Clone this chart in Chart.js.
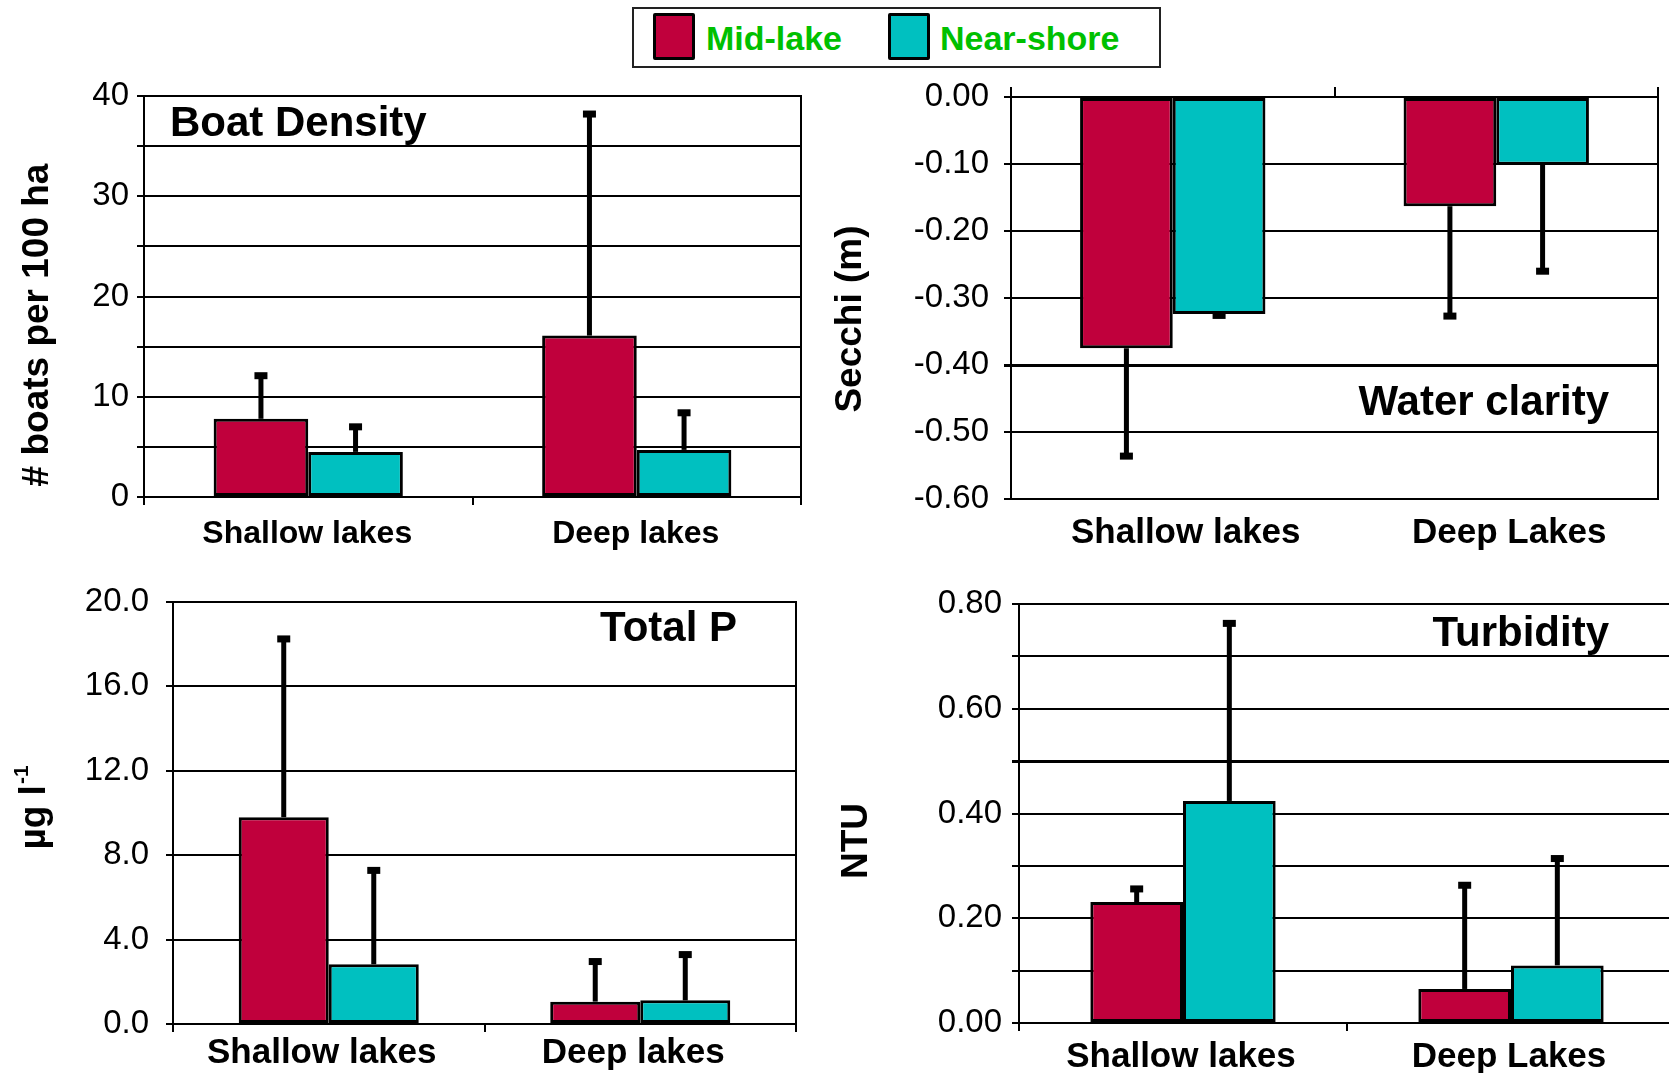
<!DOCTYPE html>
<html>
<head>
<meta charset="utf-8">
<script src="https://cdn.jsdelivr.net/npm/chart.js@4.4.0/dist/chart.umd.min.js"></script>
<style>
    body { margin: 0; width: 1669px; height: 1073px; overflow: hidden; background: #fff; position: relative;
           font-family: "Liberation Sans", Arial, sans-serif; }
    canvas { position: absolute; }
    #legend { position: absolute; left: 632px; top: 7px; width: 525px; height: 57px; border: 2px solid #222; background: #fff; }
    .swatch { position: absolute; top: 4px; width: 36px; height: 41px; border: 3px solid #000; border-radius: 2px; }
    .legText { position: absolute; top: 9px; font-weight: bold; font-size: 34px; line-height: 40px; color: #00c000; }
</style>
</head>
<body>
<div id="legend">
    <div class="swatch" style="left:19px; background:#c0003c"></div>
    <div class="legText" style="left:72px">Mid-lake</div>
    <div class="swatch" style="left:254px; background:#00c0c0"></div>
    <div class="legText" style="left:306px">Near-shore</div>
</div>
<canvas id="boatChart" width="834" height="500" style="left:0; top:70px"></canvas>
<canvas id="secchiChart" width="835" height="500" style="left:834px; top:70px"></canvas>
<canvas id="tpChart" width="834" height="503" style="left:0; top:570px"></canvas>
<canvas id="turbChart" width="845" height="503" style="left:834px; top:570px"></canvas>
<script>
// categories
var lakesA = ['Shallow lakes', 'Deep lakes'];
var lakesB = ['Shallow lakes', 'Deep Lakes'];
var seriesNames = ['Mid-lake', 'Near-shore'];

// Boat density (# boats per 100 ha)
var boatMid = [7.8, 16.1];
var boatNear = [4.5, 4.7];
var boatMidErr = [4.3, 22.1];
var boatNearErr = [2.5, 3.7];

// Water clarity, Secchi (m)
var secchiMid = [-0.375, -0.163];
var secchiNear = [-0.324, -0.101];
var secchiMidErr = [0.161, 0.164];
var secchiNearErr = [0.002, 0.159];

// Total P (ug/l)
var tpMid = [9.8, 1.06];
var tpNear = [2.83, 1.12];
var tpMidErr = [8.45, 1.9];
var tpNearErr = [4.45, 2.17];

// Turbidity (NTU)
var turbMid = [0.231, 0.065];
var turbNear = [0.424, 0.110];
var turbMidErr = [0.025, 0.198];
var turbNearErr = [0.339, 0.204];

var midColor = '#c0003c';
var nearColor = '#00c0c0';

Chart.defaults.font.family = '"Liberation Sans", Arial, sans-serif';
Chart.defaults.color = '#000';

// error bars drawn away from zero, with a square cap
var errorBarsPlugin = {
    id: 'errorBars',
    afterDatasetsDraw: function(chart, args, opts) {
        var ctx = chart.ctx;
        var yScale = chart.scales.y;
        ctx.save();
        ctx.fillStyle = '#000';
        chart.data.datasets.forEach(function(ds, di) {
            var meta = chart.getDatasetMeta(di);
            var errs = opts.errors[di];
            meta.data.forEach(function(bar, i) {
                var v = ds.data[i];
                var end = v < 0 ? v - errs[i] : v + errs[i];
                var y0 = yScale.getPixelForValue(v);
                var y1 = yScale.getPixelForValue(end);
                ctx.fillRect(bar.x - 2.5, Math.min(y0, y1), 5, Math.abs(y1 - y0));
                ctx.fillRect(bar.x - 6.5, y1 - 3.5, 13, 7);
            });
        });
        ctx.restore();
    }
};

// frame round the plot area plus the panel title and the axis title
var panelTextPlugin = {
    id: 'panelText',
    beforeDatasetsDraw: function(chart) {
        var a = chart.chartArea;
        var ctx = chart.ctx;
        ctx.save();
        ctx.strokeStyle = '#000';
        ctx.lineWidth = 2;
        ctx.strokeRect(a.left, a.top, a.right - a.left, a.bottom - a.top);
        ctx.restore();
    },
    afterDraw: function(chart, args, opts) {
        var ctx = chart.ctx;
        ctx.save();
        ctx.fillStyle = '#000';
        ctx.textBaseline = 'middle';
        ctx.font = 'bold 42px "Liberation Sans", Arial, sans-serif';
        ctx.textAlign = opts.titleAlign;
        ctx.fillText(opts.title, opts.titleX, opts.titleY);

        // rotated axis title
        ctx.translate(opts.axisX, opts.axisY);
        ctx.rotate(-Math.PI / 2);
        ctx.font = 'bold 37px "Liberation Sans", Arial, sans-serif';
        var w = ctx.measureText(opts.axisText).width;
        var supW = 0;
        if (opts.axisSup) {
            ctx.font = 'bold 21px "Liberation Sans", Arial, sans-serif';
            supW = ctx.measureText(opts.axisSup).width;
        }
        var start = -(w + supW) / 2;
        ctx.textAlign = 'left';
        ctx.font = 'bold 37px "Liberation Sans", Arial, sans-serif';
        ctx.fillText(opts.axisText, start, 0);
        if (opts.axisSup) {
            ctx.font = 'bold 21px "Liberation Sans", Arial, sans-serif';
            ctx.fillText(opts.axisSup, start + w + 1, -13);
        }
        ctx.restore();
    }
};

function buildChart(id, cfg) {
    var ctx = document.getElementById(id).getContext('2d');
    var scales = {
        x: {
            offset: true,
            grid: {
                display: !cfg.topTicks,
                offset: true,
                drawOnChartArea: false,
                tickLength: 8,
                color: '#000',
                lineWidth: 2
            },
            border: { display: false },
            ticks: {
                padding: cfg.xPad,
                labelOffset: cfg.labelOffset,
                maxRotation: 0,
                font: { size: cfg.xFont, weight: 'bold' },
                color: '#000'
            },
            afterFit: function(scale) { scale.height = cfg.xHeight; }
        },
        y: {
            min: cfg.min,
            max: cfg.max,
            grid: {
                color: '#000',
                tickLength: 7,
                lineWidth: function(c) {
                    if (c.tick && cfg.boldAt !== undefined && Math.abs(c.tick.value - cfg.boldAt) < 1e-6) return 3;
                    return 2;
                }
            },
            border: { display: false },
            ticks: {
                stepSize: cfg.step,
                padding: cfg.yPad,
                font: { size: 33 },
                color: '#000',
                callback: function(value) {
                    var k = Math.round(value / cfg.step);
                    if (k % cfg.labelEvery !== 0) return '';
                    return value.toFixed(cfg.decimals);
                }
            },
            afterFit: function(scale) {
                scale.width = cfg.yWidth;
                // keep the plot area where the layout padding puts it
                scale.paddingTop = 0;
                scale.paddingBottom = 0;
            }
        }
    };
    if (cfg.topTicks) {
        scales.x2 = {
            type: 'category',
            position: 'top',
            offset: true,
            grid: { offset: true, drawOnChartArea: false, tickLength: 10, color: '#000', lineWidth: 2 },
            border: { display: false },
            ticks: { display: false },
            afterFit: function(scale) { scale.height = 0; }
        };
    }
    return new Chart(ctx, {
        type: 'bar',
        data: {
            labels: cfg.labels,
            datasets: [{
                label: seriesNames[0],
                data: cfg.mid,
                backgroundColor: midColor,
                borderColor: '#000',
                borderWidth: 3,
                borderSkipped: false
            }, {
                label: seriesNames[1],
                data: cfg.near,
                backgroundColor: nearColor,
                borderColor: '#000',
                borderWidth: 3,
                borderSkipped: false
            }]
        },
        options: {
            responsive: false,
            animation: false,
            datasets: { bar: { barPercentage: 1, categoryPercentage: cfg.catPct } },
            layout: { padding: cfg.padding, autoPadding: false },
            scales: scales,
            plugins: {
                legend: { display: false },
                tooltip: { enabled: false },
                errorBars: { errors: [cfg.midErr, cfg.nearErr] },
                panelText: cfg.text
            }
        },
        plugins: [errorBarsPlugin, panelTextPlugin]
    });
}

buildChart('boatChart', {
    labels: lakesA, mid: boatMid, near: boatNear, midErr: boatMidErr, nearErr: boatNearErr,
    min: 0, max: 40, step: 5, labelEvery: 2, decimals: 0,
    yWidth: 144, yPad: 8, xHeight: 70, xPad: 10, xFont: 32, labelOffset: -1, catPct: 0.576,
    padding: { left: 0, top: 26, right: 33, bottom: 3 },
    text: { title: 'Boat Density', titleAlign: 'left', titleX: 170, titleY: 54,
            axisText: '# boats per 100 ha', axisX: 38, axisY: 255 }
});

buildChart('secchiChart', {
    labels: lakesB, mid: secchiMid, near: secchiNear, midErr: secchiMidErr, nearErr: secchiNearErr,
    min: -0.6, max: 0, step: 0.1, labelEvery: 1, decimals: 2, boldAt: -0.4,
    yWidth: 177, yPad: 15, xHeight: 70, xPad: 5, xFont: 35, labelOffset: 13, catPct: 0.573, topTicks: true,
    padding: { left: 0, top: 27, right: 11, bottom: 1 },
    text: { title: 'Water clarity', titleAlign: 'right', titleX: 775, titleY: 333,
            axisText: 'Secchi (m)', axisX: 17, axisY: 249 }
});

buildChart('tpChart', {
    labels: lakesA, mid: tpMid, near: tpNear, midErr: tpMidErr, nearErr: tpNearErr,
    min: 0, max: 20, step: 2, labelEvery: 2, decimals: 1, boldAt: 18,
    yWidth: 173, yPad: 17, xHeight: 49, xPad: 0, xFont: 35, labelOffset: -7, catPct: 0.578,
    padding: { left: 0, top: 32, right: 38, bottom: 0 },
    text: { title: 'Total P', titleAlign: 'right', titleX: 737, titleY: 59,
            axisText: 'µg l', axisSup: '-1', axisX: 35, axisY: 238 }
});

buildChart('turbChart', {
    labels: lakesB, mid: turbMid, near: turbNear, midErr: turbMidErr, nearErr: turbNearErr,
    min: 0, max: 0.8, step: 0.1, labelEvery: 2, decimals: 2, boldAt: 0.5,
    yWidth: 185, yPad: 10, xHeight: 50, xPad: 5, xFont: 35, labelOffset: -2, catPct: 0.565,
    padding: { left: 0, top: 34, right: 4, bottom: 0 },
    text: { title: 'Turbidity', titleAlign: 'right', titleX: 775, titleY: 64,
            axisText: 'NTU', axisX: 23, axisY: 271 }
});
</script>
</body>
</html>
